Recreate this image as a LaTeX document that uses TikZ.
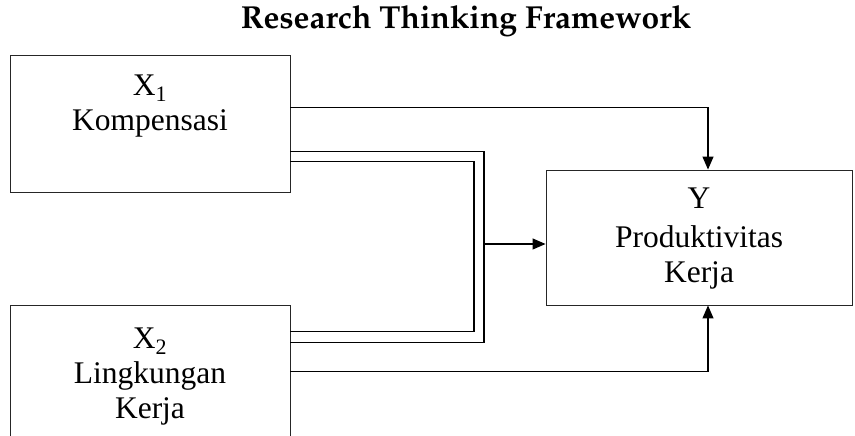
\documentclass[tikz,border=0pt]{standalone}
\usepackage{fontspec}
\setmainfont{Liberation Serif}
\usetikzlibrary{positioning,calc,arrows.meta}

\begin{document}
\begin{tikzpicture}[
    x=1pt, y=1pt,
    varbox/.style={rectangle, draw=black!85, line width=0.9pt, inner sep=0pt},
    varlabel/.style={align=center, inner sep=0pt, anchor=north, font=\fontsize{31.5}{35}\selectfont},
    conn/.style={draw, line width=1.2pt},
    arrow/.style={conn, -{Triangle[length=13pt, width=11pt]}}
]
\useasboundingbox (0,0) rectangle (855,436);

% Title
\node[font=\usefont{OT1}{ppl}{b}{n}\fontsize{31.8}{36}\selectfont, anchor=base] (title) at (466,407) {Research Thinking Framework};

% Variable boxes
\node[varbox, minimum width=280pt, minimum height=137pt] (x1) at (150,312.5) {};
\node[varbox, minimum width=280pt, minimum height=133pt] (x2) at (150,64.5) {};
\node[varbox, minimum width=306pt, minimum height=135pt] (y) at (699,198.5) {};

% Box texts
\node[varlabel] (x1text) at (150,361) {X\textsubscript{1}\\Kompensasi};
\node[varlabel] (x2text) at (150,108) {X\textsubscript{2}\\Lingkungan\\Kerja};
\node[varlabel] (ytext) at (699,248) {Y\\[4pt]Produktivitas\\Kerja};

% Joint points of the double line
\coordinate (jo) at (484,192);
\coordinate (ji) at (474,192);

% Connectors
\draw[arrow] ([yshift=-53pt]x1.north east) -| ([xshift=9pt]y.north);
\draw[conn] ([yshift=-97pt]x1.north east) -| (jo) |- ([yshift=-38pt]x2.north east);
\draw[conn] ([yshift=-107pt]x1.north east) -| (ji) |- ([yshift=-27pt]x2.north east);
\draw[arrow] (jo) -- (jo -| y.west);
\draw[arrow] ([yshift=-67pt]x2.north east) -| ([xshift=9pt]y.south);

\end{tikzpicture}
\end{document}
